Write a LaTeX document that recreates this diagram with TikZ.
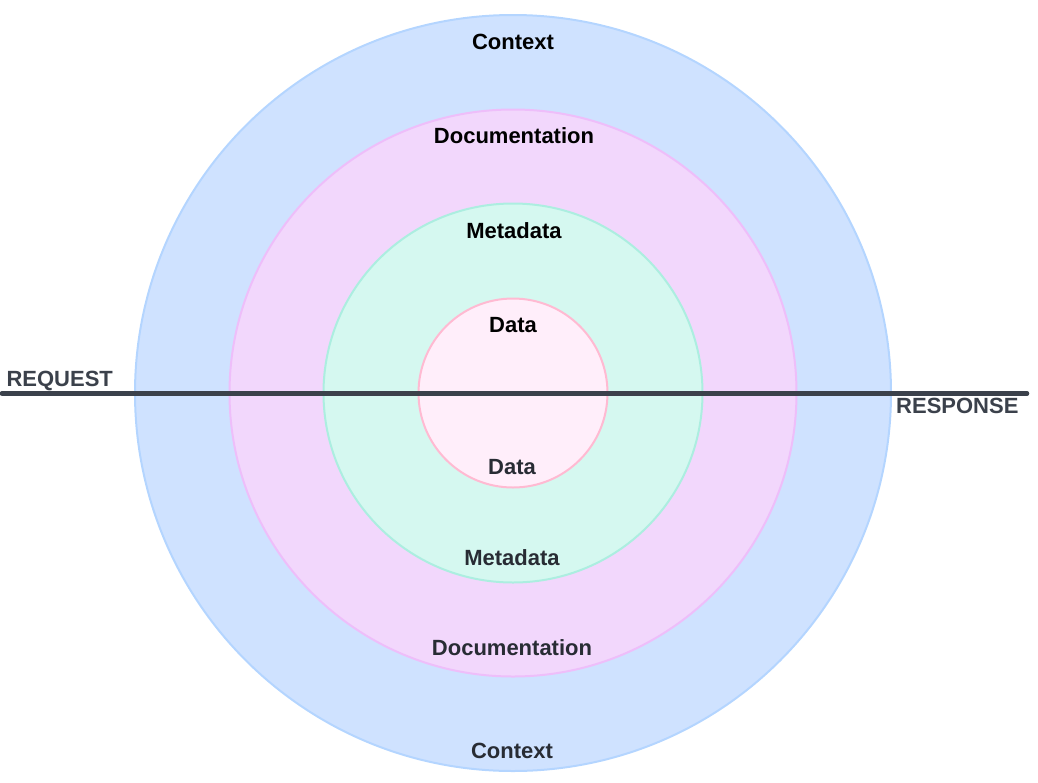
\documentclass[tikz,border=0pt]{standalone}
\usepackage{fontspec}
\setmainfont{Liberation Sans}
\usetikzlibrary{positioning}
\definecolor{ctxfill}{RGB}{207,226,255}
\definecolor{ctxline}{RGB}{180,213,255}
\definecolor{docfill}{RGB}{242,215,252}
\definecolor{docline}{RGB}{238,190,250}
\definecolor{metafill}{RGB}{213,248,240}
\definecolor{metaline}{RGB}{172,238,224}
\definecolor{datafill}{RGB}{255,238,250}
\definecolor{dataline}{RGB}{255,186,210}
\definecolor{axisgray}{RGB}{59,65,75}
\definecolor{lowtext}{RGB}{40,44,52}

\begin{document}
\begin{tikzpicture}[x=1pt,y=-1pt,
  ring/.style={line width=2pt},
  toplabel/.style={font=\fontsize{22}{26}\selectfont\bfseries,text=black},
  lowlabel/.style={font=\fontsize{22}{26}\selectfont\bfseries,text=lowtext},
  sidelabel/.style={font=\fontsize{22}{26}\selectfont\bfseries,text=axisgray}]
\useasboundingbox (0,0) rectangle (1038,782);
\draw[ring,fill=ctxfill,draw=ctxline] (513,393) circle (378);
\draw[ring,fill=docfill,draw=docline] (513,393) circle (283.5);
\draw[ring,fill=metafill,draw=metaline] (513,393) circle (189.5);
\draw[ring,fill=datafill,draw=dataline] (513,393) circle (94.5);

\coordinate (reqend) at (2,393.5);
\coordinate (respend) at (1027,393.5);
\draw[axisgray,line width=4.5pt,line cap=round] (reqend) -- (respend);

\node[sidelabel,anchor=west] (req) at (3,381) {REQUEST};
\node[sidelabel,anchor=east] (resp) at (1022,406) {RESPONSE};

\node[toplabel] (ctxtop) at (513,42) {Context};
\node[toplabel] (doctop) at (514,136) {Documentation};
\node[toplabel] (metatop) at (514,231) {Metadata};
\node[toplabel] (datatop) at (513,325) {Data};

\node[lowlabel] (datalow) at (512,467) {Data};
\node[lowlabel] (metalow) at (512,558) {Metadata};
\node[lowlabel] (doclow) at (512,648) {Documentation};
\node[lowlabel] (ctxlow) at (512,751) {Context};

\end{tikzpicture}
\end{document}
